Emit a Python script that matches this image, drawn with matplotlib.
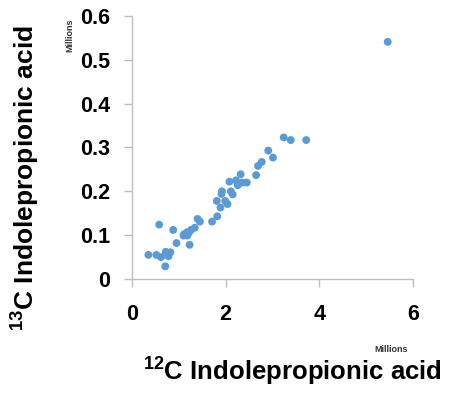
import numpy as np
import matplotlib
matplotlib.use("Agg")
import matplotlib.pyplot as plt

plt.rcParams['font.family'] = ['Liberation Sans', 'DejaVu Sans']
plt.rcParams['mathtext.default'] = 'regular'

# 12C vs 13C indolepropionic acid (millions)
c12 = [5.46, 3.24, 3.39, 3.72, 2.91, 3.01, 2.77, 2.69, 2.65, 2.32,
       2.08, 2.22, 2.26, 2.35, 2.45, 2.11, 2.15, 1.92, 1.91, 1.81,
       1.99, 2.04, 1.89, 1.82, 1.71, 1.40, 1.45, 1.34, 1.26, 1.18,
       1.11, 1.10, 1.18, 0.88, 0.58, 0.95, 1.23, 0.35, 0.52, 0.62,
       0.72, 0.82, 0.78, 0.71, 0.74, 1.21]
c13 = [0.541, 0.323, 0.317, 0.317, 0.293, 0.277, 0.267, 0.258, 0.237, 0.239,
       0.222, 0.225, 0.214, 0.220, 0.220, 0.200, 0.193, 0.200, 0.194, 0.178,
       0.178, 0.171, 0.163, 0.143, 0.131, 0.137, 0.131, 0.117, 0.112, 0.107,
       0.102, 0.099, 0.099, 0.112, 0.124, 0.082, 0.078, 0.055, 0.055, 0.050,
       0.062, 0.061, 0.052, 0.029, 0.055, 0.105]

xticks = [0, 2, 4, 6]
yticks = [0, 0.1, 0.2, 0.3, 0.4, 0.5, 0.6]
yticklabels = ["0", "0.1", "0.2", "0.3", "0.4", "0.5", "0.6"]

fig = plt.figure(figsize=(4.51, 3.93), dpi=100)
ax = fig.add_axes([132/451, 114/393, 281/451, 263/393])

ax.scatter(c12, c13, s=32, color="#5B9BD5", edgecolors="none", zorder=3, clip_on=False)

ax.set_xlim(0, 6)
ax.set_ylim(0, 0.6)
ax.set_xticks(xticks)
ax.set_xticklabels([str(t) for t in xticks])
ax.set_yticks(yticks)
ax.set_yticklabels(yticklabels)

for side in ["top", "right"]:
    ax.spines[side].set_visible(False)
for side in ["left", "bottom"]:
    ax.spines[side].set_color("#BFBFBF")
    ax.spines[side].set_linewidth(1.0)

ax.tick_params(axis="both", direction="out", length=6, width=1.0, color="#BFBFBF",
               labelsize=15.5)
ax.tick_params(axis="y", pad=10)
ax.tick_params(axis="x", pad=12)
for lab in ax.get_xticklabels() + ax.get_yticklabels():
    lab.set_fontweight("bold")

fig.text(26/451, 1 - 178/393, "$^{13}$C Indolepropionic acid", rotation=90,
         ha="center", va="center", fontsize=19, fontweight="bold")
fig.text(292/451, 1 - 372/393, "$^{12}$C Indolepropionic acid",
         ha="center", va="center", fontsize=18.5, fontweight="bold")
fig.text(391/451, 1 - 350/393, "Millions", ha="center", va="center",
         fontsize=6.5, fontweight="bold", color="#333333")
fig.text(70/451, 1 - 35/393, "Millions", rotation=90, ha="center", va="center",
         fontsize=6.5, fontweight="bold", color="#333333")

fig.savefig("out.png", dpi=100)
